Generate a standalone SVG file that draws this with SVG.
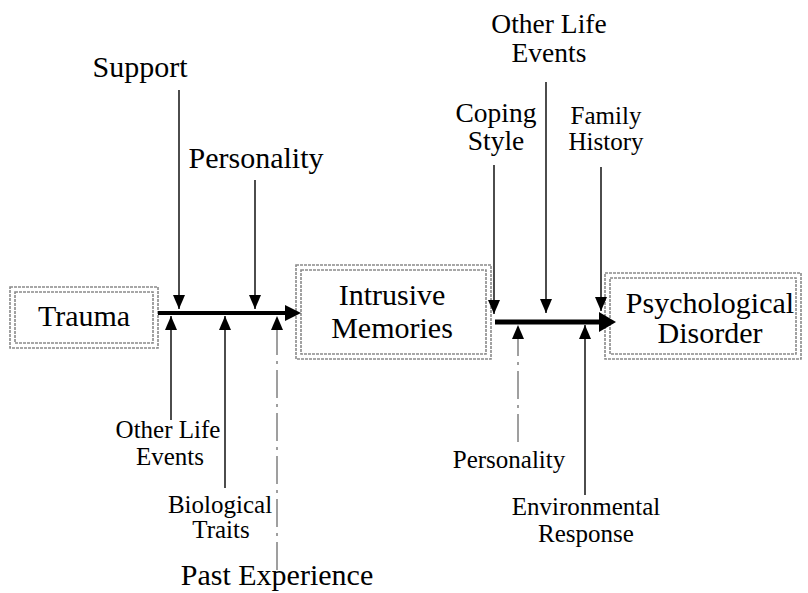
<svg xmlns="http://www.w3.org/2000/svg" width="808" height="593" viewBox="0 0 808 593">
<style>
text{fill:#000;text-anchor:middle;font-family:'Liberation Serif','Times New Roman','DejaVu Serif',serif}
.big{font-size:30px}
.mid{font-size:27.5px}
.sm{font-size:25px}
.frame{fill:none;stroke:#8a8a8a;stroke-width:1.6;stroke-dasharray:3 1}
.thin{stroke:#000;stroke-width:1.4;fill:none}
.faint{stroke:#777;stroke-width:1.4;fill:none;stroke-dasharray:28 6 3 6}
.thick1{stroke:#000;stroke-width:4;fill:none}
.thick2{stroke:#000;stroke-width:5;fill:none}
</style>
<defs>
<marker id="ah" markerUnits="userSpaceOnUse" markerWidth="14" markerHeight="12" refX="14" refY="6" orient="auto"><path d="M0,0 L14,6 L0,12 z" fill="#000"/></marker>
<marker id="big1" markerUnits="userSpaceOnUse" markerWidth="16" markerHeight="16" refX="0" refY="8" orient="auto"><path d="M0,0 L16,8 L0,16 z" fill="#000"/></marker>
<marker id="big2" markerUnits="userSpaceOnUse" markerWidth="17" markerHeight="20" refX="0" refY="10" orient="auto"><path d="M0,0 L17,10 L0,20 z" fill="#000"/></marker>
</defs>
<rect width="808" height="593" fill="#fff"/>
<g id="trauma">
<rect class="frame" x="10" y="287" width="148" height="61"/>
<rect class="frame" x="15" y="292" width="138" height="51"/>
<text class="big" x="84" y="326">Trauma</text>
</g>
<g id="intrusive-memories">
<rect class="frame" x="296" y="265" width="195" height="94"/>
<rect class="frame" x="301" y="270" width="185" height="84"/>
<text class="big" x="392" y="305">Intrusive</text>
<text class="big" x="392" y="338">Memories</text>
</g>
<g id="psychological-disorder">
<rect class="frame" x="605" y="273" width="196" height="86"/>
<rect class="frame" x="610" y="278" width="186" height="76"/>
<text class="big" x="710" y="313">Psychological</text>
<text class="big" x="710" y="343">Disorder</text>
</g>
<g id="support"><text class="big" x="140" y="77">Support</text></g>
<g id="personality-1"><text class="big" x="256" y="168">Personality</text></g>
<g id="other-life-events-1"><text class="sm" x="168" y="438">Other Life</text><text class="sm" x="170" y="465">Events</text></g>
<g id="biological-traits"><text class="sm" x="220" y="513">Biological</text><text class="sm" x="221" y="538">Traits</text></g>
<g id="past-experience"><text class="big" x="277" y="585">Past Experience</text></g>
<g id="other-life-events-2"><text class="mid" x="549" y="33">Other Life</text><text class="mid" x="549" y="62">Events</text></g>
<g id="coping-style"><text class="mid" x="496" y="122">Coping</text><text class="mid" x="496" y="150">Style</text></g>
<g id="family-history"><text class="sm" x="606" y="124">Family</text><text class="sm" x="606" y="150">History</text></g>
<g id="personality-2"><text class="sm" x="509" y="468">Personality</text></g>
<g id="environmental-response"><text class="sm" x="586" y="515">Environmental</text><text class="sm" x="586" y="542">Response</text></g>
<g id="connectors">
<line class="thick1" x1="158" y1="313" x2="285" y2="313" marker-end="url(#big1)"/>
<line class="thick2" x1="495" y1="322" x2="599" y2="322" marker-end="url(#big2)"/>
<line class="thin" x1="179" y1="90" x2="179" y2="309" marker-end="url(#ah)"/>
<line class="thin" x1="255" y1="180" x2="255" y2="309" marker-end="url(#ah)"/>
<line class="thin" x1="171" y1="420" x2="171" y2="316" marker-end="url(#ah)"/>
<line class="thin" x1="225" y1="488" x2="225" y2="316" marker-end="url(#ah)"/>
<line class="faint" x1="277" y1="570" x2="277" y2="316" marker-end="url(#ah)"/>
<line class="thin" x1="494" y1="165" x2="494" y2="314" marker-end="url(#ah)"/>
<line class="thin" x1="546" y1="82" x2="546" y2="313" marker-end="url(#ah)"/>
<line class="thin" x1="601" y1="167" x2="601" y2="311" marker-end="url(#ah)"/>
<line class="faint" x1="518" y1="442" x2="518" y2="325" marker-end="url(#ah)"/>
<line class="thin" x1="585" y1="495" x2="585" y2="325" marker-end="url(#ah)"/>
</g>
</svg>
